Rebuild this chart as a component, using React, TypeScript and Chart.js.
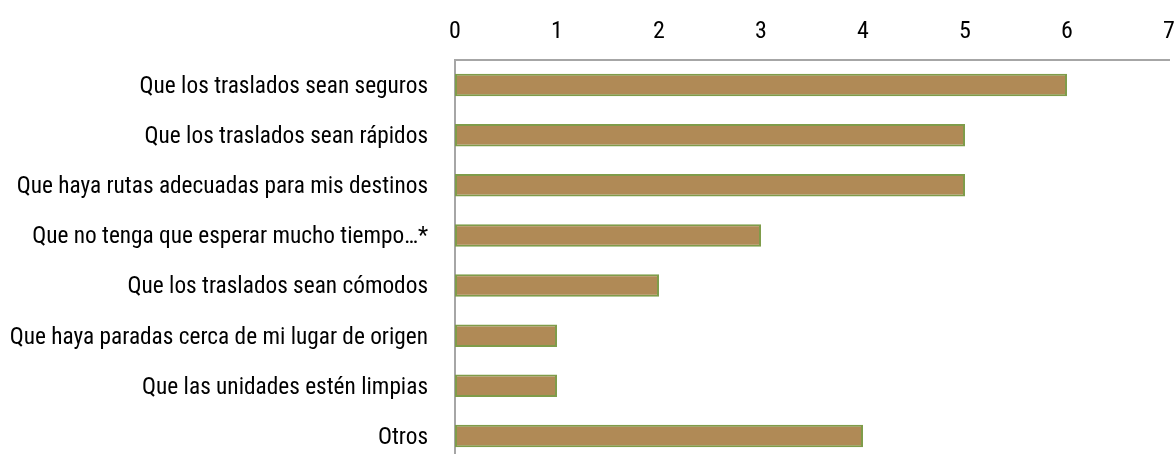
import React, { useEffect, useRef } from "react";
import { Chart, registerables } from "chart.js";

Chart.register(...registerables);

const categories = [
  "Que los traslados sean seguros",
  "Que los traslados sean rápidos",
  "Que haya rutas adecuadas para mis destinos",
  "Que no tenga que esperar mucho tiempo…*",
  "Que los traslados sean cómodos",
  "Que haya paradas cerca de mi lugar de origen",
  "Que las unidades estén limpias",
  "Otros",
];
const values = [6, 5, 5, 3, 2, 1, 1, 4];
const xTicks = [0, 1, 2, 3, 4, 5, 6, 7];

const FONT = "'Roboto Condensed', 'DejaVu Sans Condensed', sans-serif";

export default function App() {
  const ref = useRef<HTMLCanvasElement | null>(null);
  useEffect(() => {
    if (!ref.current) return;
    const chart = new Chart(ref.current, {
      type: "bar",
      data: {
        labels: categories,
        datasets: [
          {
            data: values,
            backgroundColor: "#B08A56",
            borderColor: "#7F9C4A",
            borderWidth: 2,
            borderSkipped: false,
            barPercentage: 0.45,
            categoryPercentage: 1,
          },
        ],
      },
      options: {
        indexAxis: "y",
        animation: false,
        responsive: true,
        maintainAspectRatio: false,
        layout: { padding: { right: 5, bottom: 1, left: 0, top: 0 } },
        plugins: { legend: { display: false }, tooltip: { enabled: false } },
        scales: {
          x: {
            position: "top",
            min: 0,
            max: 7,
            afterBuildTicks: (s: any) => {
              s.ticks = xTicks.map((v) => ({ value: v }));
            },
            afterFit: (s: any) => {
              s.height = 60;
              s.paddingLeft = 0;
              s.paddingRight = 0;
            },
            grid: { display: false, drawTicks: false },
            border: { display: true, color: "#A6A6A6", width: 2 },
            ticks: {
              color: "#000",
              font: { family: FONT, size: 24 },
              padding: 14,
            },
          },
          y: {
            afterFit: (s: any) => {
              s.width = 455;
              s.paddingTop = 0;
              s.paddingBottom = 0;
            },
            grid: { display: false, drawTicks: false },
            border: { display: true, color: "#A6A6A6", width: 2 },
            ticks: {
              color: "#000",
              font: { family: FONT, size: 23.3 },
              padding: 27,
              labelOffset: 2,
              autoSkip: false,
            },
          },
        },
      },
    });
    return () => chart.destroy();
  }, []);
  return (
    <div
      style={{
        position: "fixed",
        left: 0,
        top: 0,
        width: 1174,
        height: 454,
        overflow: "hidden",
        background: "#fff",
      }}
    >
      <div style={{ position: "relative", width: 1174, height: 462 }}>
        <canvas ref={ref} />
      </div>
    </div>
  );
}
